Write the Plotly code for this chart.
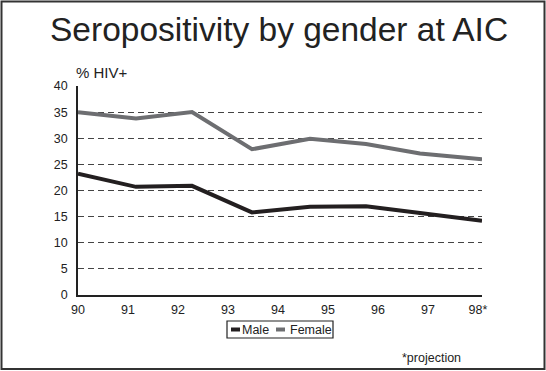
import plotly.graph_objects as go

# ---- data ----
x_positions = [90, 91.16, 92.28, 93.48, 94.64, 95.76, 96.84, 98.08]
male = [23.2, 20.7, 20.9, 15.8, 16.9, 17.0, 15.7, 14.2]
female = [35.0, 33.8, 35.0, 27.9, 29.9, 28.9, 27.1, 26.0]
tick_vals = [90, 91, 92, 93, 94, 95, 96, 97, 98]
tick_text = ["90", "91", "92", "93", "94", "95", "96", "97", "98*"]
y_ticks = [0, 5, 10, 15, 20, 25, 30, 35, 40]

MALE_C = "#231f20"
FEMALE_C = "#6d6e71"
FONT = "Liberation Sans, Arial, Helvetica, sans-serif"

W, H = 546, 371
L, R, T, B = 78, 64, 86, 76
PW, PH = W - L - R, H - T - B


def px(xp):
    return (xp - L) / PW


def py(yp):
    return (H - B - yp) / PH


fig = go.Figure()
fig.add_trace(go.Scatter(x=x_positions, y=male, mode="lines", name="Male",
                         line=dict(color=MALE_C, width=4), showlegend=False))
fig.add_trace(go.Scatter(x=x_positions, y=female, mode="lines", name="Female",
                         line=dict(color=FEMALE_C, width=4), showlegend=False))

fig.update_layout(
    width=W, height=H,
    margin=dict(l=L, r=R, t=T, b=B),
    paper_bgcolor="white", plot_bgcolor="white",
    font=dict(family=FONT, size=12.5, color="#222"),
    xaxis=dict(range=[90, 98.08], tickvals=tick_vals, ticktext=tick_text,
               showgrid=False, zeroline=False, showline=True,
               linecolor="#222", linewidth=1.5, ticks="",
               ticklabelstandoff=2, fixedrange=True),
    yaxis=dict(range=[0, 40], tickvals=y_ticks, showgrid=True,
               gridcolor="#444", griddash="6px,4px", gridwidth=1,
               zeroline=False, showline=True, linecolor="#222", linewidth=1.5,
               ticks="", ticklabelstandoff=6, fixedrange=True),
)

shapes = []
# outer border
shapes.append(dict(type="rect", xref="paper", yref="paper",
                   x0=px(1.5), x1=px(544.5), y0=py(369), y1=py(1.5),
                   line=dict(color="#333", width=2), fillcolor="rgba(0,0,0,0)"))
# legend box
shapes.append(dict(type="rect", xref="paper", yref="paper",
                   x0=px(227), x1=px(333), y0=py(338), y1=py(321),
                   line=dict(color="#222", width=1.2), fillcolor="white"))
shapes.append(dict(type="line", xref="paper", yref="paper",
                   x0=px(231), x1=px(240), y0=py(329.5), y1=py(329.5),
                   line=dict(color=MALE_C, width=4)))
shapes.append(dict(type="line", xref="paper", yref="paper",
                   x0=px(276), x1=px(285), y0=py(329.5), y1=py(329.5),
                   line=dict(color=FEMALE_C, width=4)))
fig.update_layout(shapes=shapes)

ann = []
ann.append(dict(text="Seropositivity by gender at AIC", xref="paper", yref="paper",
                x=px(279), y=py(29), xanchor="center", yanchor="middle",
                showarrow=False, font=dict(size=33.5, color="#222", family=FONT)))
ann.append(dict(text="% HIV+", xref="paper", yref="paper",
                x=px(74), y=py(72), xanchor="left", yanchor="middle",
                showarrow=False, font=dict(size=15, color="#222", family=FONT)))
ann.append(dict(text="Male", xref="paper", yref="paper",
                x=px(240), y=py(329.5), xanchor="left", yanchor="middle",
                showarrow=False, font=dict(size=12.5, color="#222", family=FONT)))
ann.append(dict(text="Female", xref="paper", yref="paper",
                x=px(288), y=py(329.5), xanchor="left", yanchor="middle",
                showarrow=False, font=dict(size=12.5, color="#222", family=FONT)))
ann.append(dict(text="*projection", xref="paper", yref="paper",
                x=px(400), y=py(358), xanchor="left", yanchor="middle",
                showarrow=False, font=dict(size=12.5, color="#222", family=FONT)))
fig.update_layout(annotations=ann)

fig.write_html("out.html", config={"displayModeBar": False},
               post_script="document.body.style.margin='0';document.body.style.overflow='hidden';")
